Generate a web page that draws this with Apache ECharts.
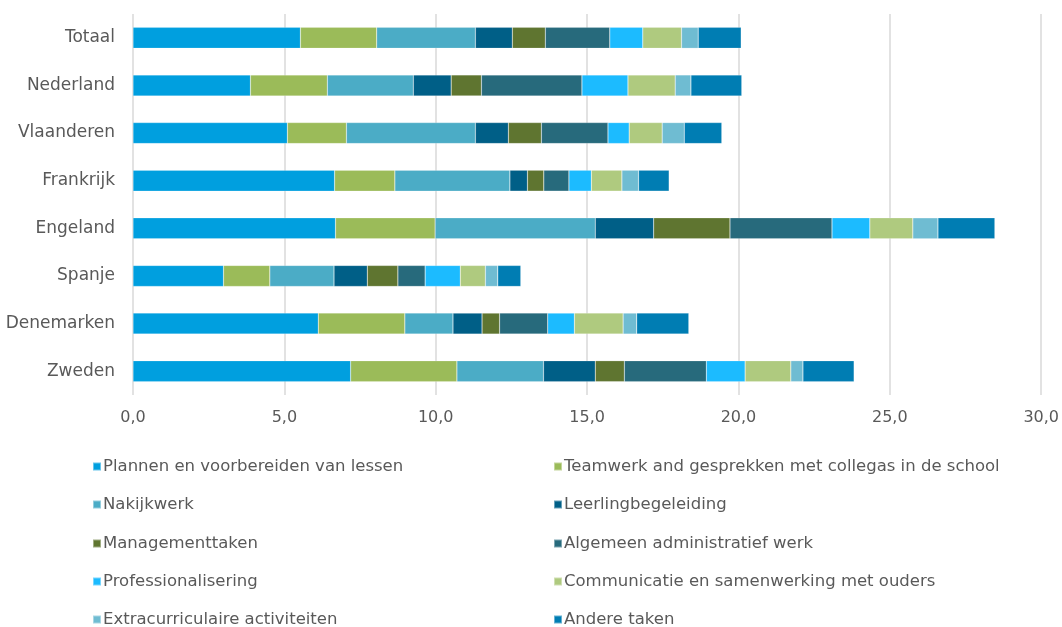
<!DOCTYPE html>
<html>
<head>
<meta charset="utf-8">
<script src="https://cdn.jsdelivr.net/npm/echarts@6/dist/echarts.min.js"></script>
<style>
  html, body { margin: 0; padding: 0; background: #fff; }
  #chart { width: 1062px; height: 627px; }
</style>
</head>
<body>
<div id="chart"></div>
<script>
const countries = ["Totaal", "Nederland", "Vlaanderen", "Frankrijk", "Engeland", "Spanje", "Denemarken", "Zweden"];

const seriesNames = [
  "Plannen en voorbereiden van lessen",
  "Teamwerk and gesprekken met collegas in de school",
  "Nakijkwerk",
  "Leerlingbegeleiding",
  "Managementtaken",
  "Algemeen administratief werk",
  "Professionalisering",
  "Communicatie en samenwerking met ouders",
  "Extracurriculaire activiteiten",
  "Andere taken"
];

const colors = ["#009fdf", "#9bbb59", "#4bacc6", "#005f87", "#5f7530", "#276a7c", "#1cbbff", "#afca7f", "#6fbcd2", "#007db3"];

// one array per task, values in the order of countries
const plannen       = [5.53, 3.88, 5.10, 6.66, 6.69, 2.99, 6.12, 7.19];
const teamwerk      = [2.52, 2.54, 1.95, 1.99, 3.29, 1.53, 2.86, 3.51];
const nakijkwerk    = [3.26, 2.84, 4.26, 3.80, 5.29, 2.12, 1.59, 2.86];
const begeleiding   = [1.22, 1.25, 1.09, 0.58, 1.93, 1.10, 0.96, 1.71];
const management    = [1.09, 1.00, 1.09, 0.54, 2.52, 1.01, 0.58, 0.96];
const administratie = [2.13, 3.32, 2.20, 0.83, 3.37, 0.90, 1.59, 2.71];
const professional  = [1.09, 1.52, 0.70, 0.74, 1.25, 1.16, 0.88, 1.28];
const ouders        = [1.28, 1.56, 1.09, 1.01, 1.42, 0.83, 1.61, 1.51];
const extra         = [0.55, 0.52, 0.73, 0.55, 0.83, 0.41, 0.45, 0.40];
const andere        = [1.42, 1.68, 1.24, 1.01, 1.88, 0.76, 1.72, 1.69];

const xTicks = { min: 0, max: 30, interval: 5 };

const allData = [plannen, teamwerk, nakijkwerk, begeleiding, management, administratie, professional, ouders, extra, andere];

const font = "DejaVu Sans";
const textColor = "#595959";

const chart = echarts.init(document.getElementById("chart"));

// legend in two columns, one small legend per entry
const legendRows = [458, 496, 535, 573, 611];
const legends = seriesNames.map((name, i) => ({
  data: [name],
  left: i % 2 === 0 ? 92 : 553,
  top: legendRows[Math.floor(i / 2)],
  padding: 0,
  itemWidth: 8,
  itemHeight: 8,
  icon: "rect",
  textStyle: { color: textColor, fontFamily: font, fontSize: 16.5, lineHeight: 16, padding: [0, 0, 0, -3] }
}));

const option = {
  animation: false,
  color: colors,
  textStyle: { fontFamily: font },
  grid: { left: 133, right: 20, top: 14, bottom: 232 },
  legend: legends,
  xAxis: {
    type: "value",
    min: xTicks.min,
    max: xTicks.max,
    interval: xTicks.interval,
    axisLine: { show: false },
    axisTick: { show: false },
    axisLabel: {
      color: textColor,
      fontSize: 16,
      fontFamily: font,
      margin: 15,
      formatter: v => v.toFixed(1).replace(".", ",")
    },
    splitLine: { lineStyle: { color: "#d9d9d9", width: 1.5 } }
  },
  yAxis: {
    type: "category",
    inverse: true,
    data: countries,
    axisLine: { show: false },
    axisTick: { show: false },
    axisLabel: { color: textColor, fontSize: 17, fontFamily: font, margin: 18 }
  },
  series: seriesNames.map((name, i) => ({
    name: name,
    type: "bar",
    stack: "total",
    barWidth: 21,
    itemStyle: { color: colors[i], borderColor: "rgba(255,255,255,0.4)", borderWidth: 0.5 },
    data: allData[i]
  }))
};

chart.setOption(option);
</script>
</body>
</html>
